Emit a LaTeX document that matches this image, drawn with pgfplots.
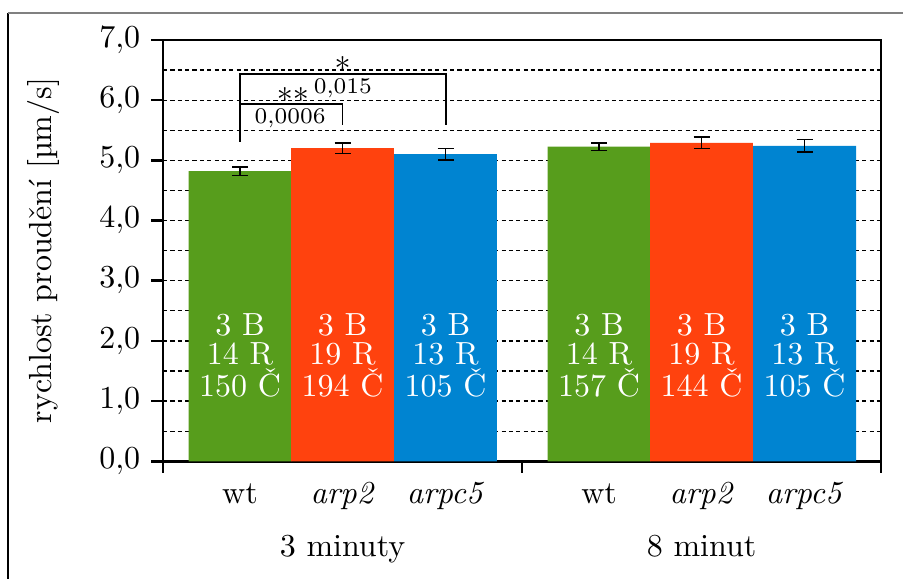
\documentclass[border=0pt]{standalone}
\usepackage{pgfplots}
\usepackage{pgfplotstable}
\pgfplotsset{compat=1.18}

\definecolor{ccgreen}{HTML}{579D1C}
\definecolor{ccred}{HTML}{FF420E}
\definecolor{ccblue}{HTML}{0084D1}

% mean flow speed and its error, per genotype (x = bar centre)
\pgfplotstableread{
x      y     err
0.2145 4.820 0.070
1.2145 5.227 0.066
}\wtdata
\pgfplotstableread{
x      y     err
0.5000 5.205 0.088
1.5000 5.290 0.095
}\arptwodata
\pgfplotstableread{
x      y     err
0.7870 5.105 0.094
1.7870 5.240 0.105
}\arpcdata

% three white lines of counts inside a bar
\newcommand{\barnote}[4]{%
  \node[anchor=base, text=white] at (axis cs:#1,2.098) {#2};
  \node[anchor=base, text=white] at (axis cs:#1,1.600) {#3};
  \node[anchor=base, text=white] at (axis cs:#1,1.073) {#4};
}

\pgfplotsset{
  cbar/.style={ybar, bar width=0.2865, bar shift=0pt, draw=none, fill=#1,
    error bars/.cd, y dir=both, y explicit,
    error bar style={black, line width=0.5pt},
    error mark options={rotate=90, black, mark size=2.5pt, line width=0.5pt}},
}

\begin{document}
\begin{tikzpicture}
\useasboundingbox (-50.94pt,-36.78pt) rectangle (231.25pt,144.16pt);
\begin{axis}[
  at={(0,0)}, anchor=south west,
  scale only axis, width=224.4pt, height=131.66pt,
  xmin=0, xmax=2, ymin=0, ymax=7,
  xtick={0,1,2}, xticklabels={},
  ytick={0,1,...,7}, minor ytick={0.5,1.5,...,6.5},
  tick pos=left, tick align=outside,
  major tick length=3.6pt, minor tick length=0pt,
  ymajorgrids, yminorgrids,
  major grid style={black, line width=0.4pt, dash pattern=on 1.3pt off 1pt},
  minor grid style={black, line width=0.4pt, dash pattern=on 1.3pt off 1pt},
  axis line style={line width=0.8pt},
  every tick/.style={black, line width=0.8pt},
  yticklabel style={/pgf/number format/fixed, /pgf/number format/fixed zerofill,
    /pgf/number format/precision=1, /pgf/number format/use comma},
  clip=false,
]
\addplot[cbar=ccgreen] table[x=x, y=y, y error=err] {\wtdata};
\addplot[cbar=ccred]   table[x=x, y=y, y error=err] {\arptwodata};
\addplot[cbar=ccblue]  table[x=x, y=y, y error=err] {\arpcdata};

% significance brackets
\addplot[black, line width=0.6pt, sharp plot, no marks]
  coordinates {(0.2145,5.31) (0.2145,6.44) (0.787,6.44) (0.787,5.587)};
\addplot[black, line width=0.6pt, sharp plot, no marks]
  coordinates {(0.2145,5.936) (0.5,5.936) (0.5,5.587)};
\node[anchor=base, inner sep=0pt] at (axis cs:0.362,5.82) {**};
\node[anchor=base, inner sep=0pt, font=\scriptsize] at (axis cs:0.354,5.61) {0,0006};
\node[anchor=base, inner sep=0pt] at (axis cs:0.500,6.335) {*};
\node[anchor=base, inner sep=0pt, font=\scriptsize] at (axis cs:0.501,6.11) {0,015};

% counts inside the bars
\barnote{0.2145}{3 B}{14 R}{150 Č}
\barnote{0.5000}{3 B}{19 R}{194 Č}
\barnote{0.7870}{3 B}{13 R}{105 Č}
\barnote{1.2145}{3 B}{14 R}{157 Č}
\barnote{1.5000}{3 B}{19 R}{144 Č}
\barnote{1.7870}{3 B}{13 R}{105 Č}

% genotype and time labels
\node[anchor=base, yshift=-13.3pt] at (axis cs:0.2145,0) {wt};
\node[anchor=base, yshift=-13.3pt] at (axis cs:0.5000,0) {\textit{arp2}};
\node[anchor=base, yshift=-13.3pt] at (axis cs:0.7870,0) {\textit{arpc5}};
\node[anchor=base, yshift=-13.3pt] at (axis cs:1.2145,0) {wt};
\node[anchor=base, yshift=-13.3pt] at (axis cs:1.5000,0) {\textit{arp2}};
\node[anchor=base, yshift=-13.3pt] at (axis cs:1.7870,0) {\textit{arpc5}};
\node[anchor=base, yshift=-29.8pt] at (axis cs:0.5,0) {3 minuty};
\node[anchor=base, yshift=-29.8pt] at (axis cs:1.5,0) {8 minut};
\end{axis}

\node[rotate=90, anchor=base] at (-34.8pt,65.83pt) {rychlost proudění [µm/s]};

% page frame
\draw[black, line width=0.5pt] (-48.44pt,140.1pt) -- (-48.44pt,-40pt);
\draw[gray, line width=0.6pt] (-48.44pt,140.1pt) -- (240pt,140.1pt);
\end{tikzpicture}
\end{document}
